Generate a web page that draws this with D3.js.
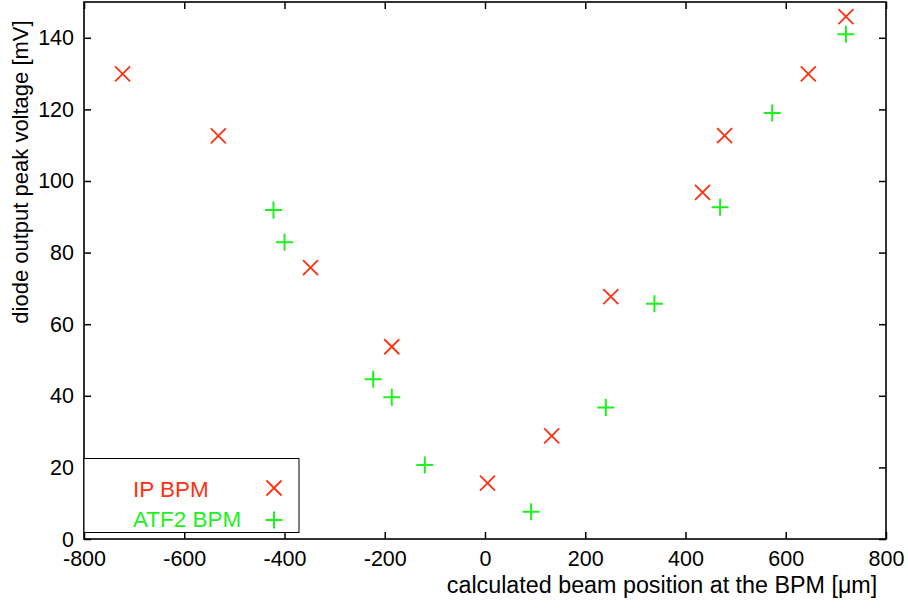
<!DOCTYPE html>
<html>
<head>
<meta charset="utf-8">
<script src="https://cdn.jsdelivr.net/npm/d3@7"></script>
<style>
  body { margin: 0; background: #fff; }
  text { font-family: "Liberation Sans", Arial, Helvetica, sans-serif; }
</style>
</head>
<body>
<svg id="chart"></svg>
<script>
// data
const ipX  = [-723, -532, -348, -186, 5, 133, 251, 434, 478, 645, 720];
const ipY  = [129.9, 112.6, 75.8, 53.7, 15.6, 28.8, 67.7, 96.8, 112.7, 129.9, 145.9];
const atfX = [-422, -400, -223, -186, -120, 92, 241, 338, 469, 573, 720];
const atfY = [91.9, 82.9, 44.6, 39.6, 20.7, 7.6, 36.7, 65.7, 92.7, 119, 141];
const xTicks = [-800, -600, -400, -200, 0, 200, 400, 600, 800];
const yTicks = [0, 20, 40, 60, 80, 100, 120, 140];
const seriesNames = ["IP BPM", "ATF2 BPM"];

const RED = "#ff3011";
const GREEN = "#1ef01e";

const W = 908, H = 610;
const margin = { left: 84, right: 22, top: 2, bottom: 71 };
const width = W - margin.left - margin.right;
const height = H - margin.top - margin.bottom;

const svg = d3.select("#chart").attr("width", W).attr("height", H);
const g = svg.append("g").attr("transform", "translate(" + margin.left + "," + margin.top + ")");

const x = d3.scaleLinear().domain([-800, 800]).range([0, width]);
const y = d3.scaleLinear().domain([0, 150]).range([height, 0]);

// plain hyphen minus, like the original
const fmt = d => String(d);

// inward ticks on all four sides
const tickLen = 7;
g.append("g").attr("transform", "translate(0," + height + ")")
  .call(d3.axisBottom(x).tickValues(xTicks).tickFormat(fmt).tickSizeInner(-tickLen).tickSizeOuter(0).tickPadding(12));
g.append("g")
  .call(d3.axisTop(x).tickValues(xTicks).tickSizeInner(-tickLen).tickSizeOuter(0).tickFormat(""));
const yAx = g.append("g")
  .call(d3.axisLeft(y).tickValues(yTicks).tickFormat(fmt).tickSizeInner(-tickLen).tickSizeOuter(0).tickPadding(10));
g.append("g").attr("transform", "translate(" + width + ",0)")
  .call(d3.axisRight(y).tickValues(yTicks).tickSizeInner(-tickLen).tickSizeOuter(0).tickFormat(""));

g.selectAll(".domain").remove();
g.selectAll(".tick line").attr("stroke", "#000").attr("stroke-width", 1.5);
g.selectAll(".tick text").attr("font-size", 21.5).attr("fill", "#000")
  .attr("font-family", "Liberation Sans, Arial, sans-serif");
// the zero label sits a little low in the original
yAx.selectAll(".tick text").filter(d => d === 0).attr("dy", "0.36em");

// frame
g.append("rect").attr("width", width).attr("height", height)
  .attr("fill", "none").attr("stroke", "#000").attr("stroke-width", 1.6);

// markers
const crossPath = s => "M" + (-s) + "," + (-s) + "L" + s + "," + s + "M" + (-s) + "," + s + "L" + s + "," + (-s);
const plusPath = s => "M" + (-s) + ",0L" + s + ",0M0," + (-s) + "L0," + s;

const ipData = ipX.map((v, i) => ({ x: v, y: ipY[i] }));
const atfData = atfX.map((v, i) => ({ x: v, y: atfY[i] }));

g.append("g").selectAll("path").data(ipData).enter().append("path")
  .attr("transform", d => "translate(" + x(d.x) + "," + y(d.y) + ")")
  .attr("d", crossPath(7.5))
  .attr("stroke", RED).attr("stroke-width", 1.8).attr("fill", "none");

g.append("g").selectAll("path").data(atfData).enter().append("path")
  .attr("transform", d => "translate(" + x(d.x) + "," + y(d.y) + ")")
  .attr("d", plusPath(8.5))
  .attr("stroke", GREEN).attr("stroke-width", 2).attr("fill", "none");

// legend
const leg = svg.append("g");
leg.append("rect").attr("x", 84).attr("y", 458.5).attr("width", 215).attr("height", 74)
  .attr("fill", "#fff").attr("stroke", "#000").attr("stroke-width", 1);
const legRows = [
  { name: seriesNames[0], color: RED, d: crossPath(7.5), w: 1.8, ty: 497, my: 488 },
  { name: seriesNames[1], color: GREEN, d: plusPath(8.5), w: 2, ty: 527, my: 520 }
];
legRows.forEach(r => {
  leg.append("text").attr("x", 133).attr("y", r.ty).attr("font-size", 22.5)
    .attr("fill", r.color).text(r.name);
  leg.append("path").attr("transform", "translate(274," + r.my + ")")
    .attr("d", r.d).attr("stroke", r.color).attr("stroke-width", r.w).attr("fill", "none");
});

// axis titles
svg.append("text").attr("x", 662).attr("y", 593).attr("text-anchor", "middle")
  .attr("font-size", 23.3).attr("fill", "#000")
  .text("calculated beam position at the BPM [\u03bcm]");
svg.append("text").attr("transform", "translate(28,172) rotate(-90)")
  .attr("text-anchor", "middle").attr("font-size", 22).attr("fill", "#000")
  .text("diode output peak voltage [mV]");
</script>
</body>
</html>
